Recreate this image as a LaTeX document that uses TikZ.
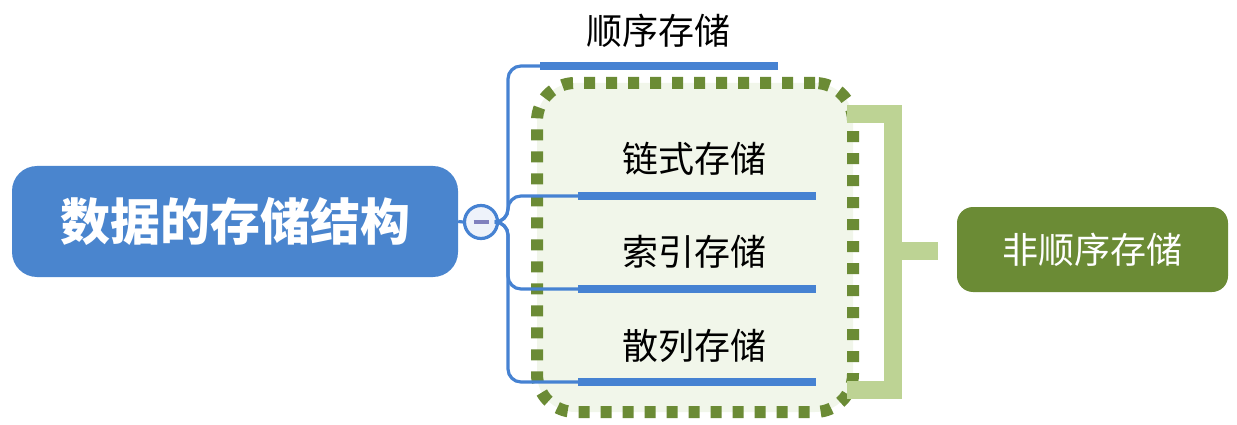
\documentclass[tikz,border=0pt]{standalone}
\usepackage{fontspec}
\setmainfont{Noto Sans CJK SC}
\definecolor{mainblue}{RGB}{74,133,206}
\definecolor{barblue}{RGB}{70,130,210}
\definecolor{olive}{RGB}{107,139,53}
\definecolor{lightolive}{RGB}{189,211,148}
\definecolor{boxfill}{RGB}{241,246,234}
\definecolor{circfill}{RGB}{238,242,250}
\definecolor{minuscol}{RGB}{128,128,190}
\tikzset{
  mainnode/.style={fill=mainblue, rounded corners=25pt, minimum width=446pt, minimum height=111pt, text=white, font=\fontsize{50}{56}\selectfont\bfseries, inner sep=0pt},
  greennode/.style={fill=olive, rounded corners=16pt, minimum width=271pt, minimum height=85pt, text=white, font=\fontsize{36}{40}\selectfont, inner sep=0pt},
  childtext/.style={font=\fontsize{36}{40}\selectfont, text=black, inner sep=0pt},
  barnode/.style={fill=barblue, minimum width=238pt, minimum height=8pt, inner sep=0pt},
  conn/.style={draw=barblue, line width=3.2pt, rounded corners=13pt},
  dotbox/.style={draw=olive, fill=boxfill, line width=12pt, dash pattern=on 11pt off 11pt, rounded corners=38pt, minimum width=316pt, minimum height=329pt, inner sep=0pt},
  bracketline/.style={draw=lightolive, line width=18pt, line join=miter},
}
\begin{document}
\begin{tikzpicture}[x=1pt,y=-1pt]
\useasboundingbox (0,0) rectangle (1237,425);
% dotted group box
\node[dotbox] (box) at (695,247.5) {};
% main node
\node[mainnode] (main) at (235,221.5) {数据的存储结构};
% collapse button
\node[circle, draw=barblue, line width=3.2pt, fill=circfill, minimum size=33pt, inner sep=0pt] (btn) at (481,222) {};
\draw[minuscol, line width=3.4pt] ([xshift=-7.5pt]btn.center) -- ([xshift=7.5pt]btn.center);
% children bars and texts
\node[barnode] (b1) at (659,66) {};
\node[barnode] (b2) at (697,196) {};
\node[barnode] (b3) at (697,289) {};
\node[barnode] (b4) at (697,382) {};
\node[childtext] (t1) at (658,31) {顺序存储};
\node[childtext] (t2) at (694,159) {链式存储};
\node[childtext] (t3) at (694,252) {索引存储};
\node[childtext] (t4) at (694,346) {散列存储};
% connectors
\coordinate (j) at (508,222);
\draw[conn] (main.east) -- (btn.west);
\draw[conn] (btn.east) -- (j) |- (b1.west);
\draw[conn] (btn.east) -- (j) |- (b2.west);
\draw[conn] (btn.east) -- (j) |- (b3.west);
\draw[conn] (btn.east) -- (j) |- (b4.west);
% non-sequential node and bracket
\node[greennode] (ns) at (1092.5,249.5) {非顺序存储};
\coordinate (bt) at (847,114);
\coordinate (bb) at (847,390);
\coordinate (bm) at (893,251);
\draw[bracketline] (bt) -- (893,114) -- (893,390) -- (bb);
\draw[bracketline] (bm) -- ([xshift=-19pt]ns.west |- bm);
\end{tikzpicture}
\end{document}
